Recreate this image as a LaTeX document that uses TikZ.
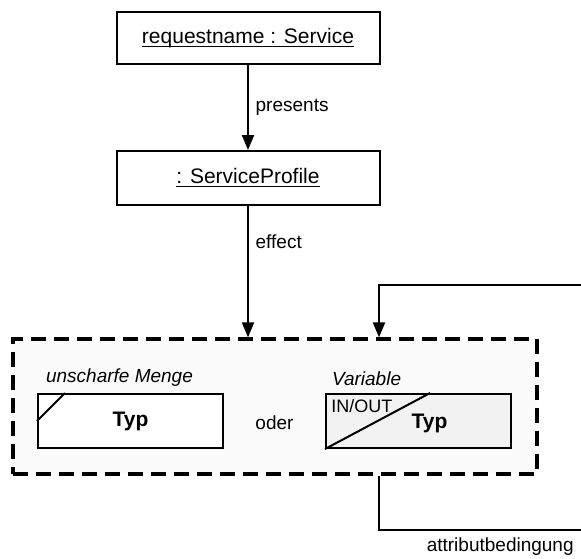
\documentclass[tikz,border=0pt]{standalone}
\usepackage{fontspec}
\setmainfont{Liberation Sans}
\usetikzlibrary{arrows.meta, positioning}
\newcommand{\objname}[1]{\raisebox{0pt}[7.6pt][2.2pt]{\underline{\smash{#1}}}}

\begin{document}
\begin{tikzpicture}[x=0.5pt, y=-0.5pt, >={Triangle[length=7.5pt, width=6pt]}]
    \tikzstyle{object} = [rectangle, draw, line width=1pt, minimum width=131.5pt, minimum height=26pt, font=\fontsize{10.5}{12}\selectfont]
    \tikzstyle{line} = [draw, ->, line width=1pt]
    \tikzstyle{frame} = [rectangle, draw, fill=gray!3, line width=1.6pt, dash pattern=on 7.5pt off 4pt, minimum width=262pt, minimum height=67.5pt]
    \tikzstyle{typbox} = [rectangle, draw, line width=1pt, minimum width=92.5pt, minimum height=27pt, font=\fontsize{10.5}{12}\selectfont\bfseries]
    \tikzstyle{lbl} = [font=\fontsize{9.5}{11}\selectfont]

    \useasboundingbox (0,0) rectangle (581,558);

    % Nodes
    \node [object] (service) at (248,38) {\objname{requestname : Service}};
    \node [object, below=42.5pt of service, minimum height=27pt] (profile) {\objname{: ServiceProfile}};
    \node [frame] (choice) at (275,406.5) {};
    \node [typbox, fill=white] (fuzzy) at (130.5,421) {Typ};
    \node [typbox, fill=gray!10] (variable) at (418.5,421) {};
    \node [lbl] (oder) at (274.5,423) {oder};

    % Box details
    \draw [line width=1pt] (fuzzy.west) -- ([xshift=14pt]fuzzy.north west);
    \draw [line width=1pt] (variable.south west) -- ([xshift=52.5pt]variable.north west);
    \node [font=\fontsize{10.5}{12}\selectfont\bfseries] (vartyp) at ([xshift=5.5pt, yshift=-1pt]variable.center) {Typ};
    \node [font=\fontsize{9}{10}\selectfont, anchor=north west, inner sep=3pt] (inout) at (variable.north west) {IN/OUT};
    \node [lbl, font=\fontsize{9.5}{11}\selectfont\itshape, anchor=south west] (fuzzylabel) at ([xshift=1pt]fuzzy.north west) {unscharfe Menge};
    \node [lbl, font=\fontsize{9.5}{11}\selectfont\itshape, anchor=south west] (varlabel) at (variable.north west) {Variable};

    % Paths
    \coordinate (loopstart) at (581,285);
    \coordinate (bend) at (379,530);
    \coordinate (loopend) at (581,530);
    \path [line] (service) -- node[lbl, right] {presents} (profile);
    \path [line] (profile) -- node[lbl, right, pos=0.27] {effect} (profile |- choice.north);
    \path [line] (loopstart) -| (choice.north -| bend);
    \draw [line width=1pt] (choice.south -| bend) -- (bend) -- node[lbl, below, pos=0.6] {attributbedingung} (loopend);

\end{tikzpicture}
\end{document}
